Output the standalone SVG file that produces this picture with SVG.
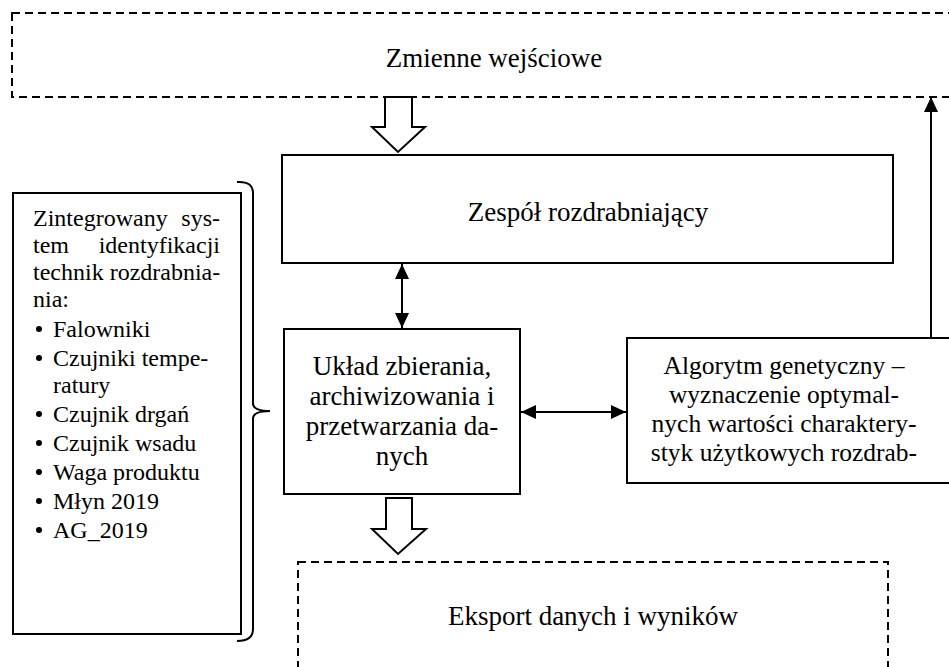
<svg xmlns="http://www.w3.org/2000/svg" width="949" height="667" viewBox="0 0 949 667">
  <defs>
    <marker id="head" viewBox="0 0 15 14" refX="15" refY="7" markerWidth="15" markerHeight="14" markerUnits="userSpaceOnUse" orient="auto-start-reverse">
      <path d="M0,0 L15,7 L0,14 Z" fill="#000"/>
    </marker>
    <style>
      .box { fill: #fff; stroke: #000; stroke-width: 2; }
      .dash { fill: none; stroke: #000; stroke-width: 2; stroke-dasharray: 8 5; }
      .hollow { fill: #fff; stroke: #000; stroke-width: 2; stroke-linejoin: miter; }
      .line { fill: none; stroke: #000; stroke-width: 2; }
      text { font-family: 'Liberation Serif', 'DejaVu Serif', serif; fill: #000; }
      .t { font-size: 27px; text-anchor: middle; }
      .s { font-size: 24px; }
    </style>
  </defs>

  <g id="inputs">
    <rect class="dash" x="12" y="13" width="960" height="84"/>
    <text class="t" x="494" y="67">Zmienne wejściowe</text>
  </g>

  <g id="crusher">
    <rect class="box" x="282" y="155" width="611" height="108"/>
    <text class="t" x="588" y="221">Zespół rozdrabniający</text>
  </g>

  <g id="data-unit">
    <rect class="box" x="284" y="329" width="236" height="165"/>
    <text class="t" x="402" y="375">Układ zbierania,</text>
    <text class="t" x="402" y="405">archiwizowania i</text>
    <text class="t" x="402" y="435">przetwarzania da-</text>
    <text class="t" x="402" y="465">nych</text>
  </g>

  <g id="genetic">
    <rect class="box" x="627" y="338" width="340" height="145"/>
    <text class="t" x="784" y="374" style="font-size:25.5px">Algorytm genetyczny –</text>
    <text class="t" x="784" y="403" style="font-size:25.5px">wyznaczenie optymal-</text>
    <text class="t" x="784" y="432" style="font-size:25.5px">nych wartości charaktery-</text>
    <text class="t" x="784" y="461" style="font-size:25.5px">styk użytkowych rozdrab-</text>
  </g>

  <g id="export">
    <rect class="dash" x="298" y="562" width="590" height="120"/>
    <text class="t" x="593" y="625">Eksport danych i wyników</text>
  </g>

  <g id="system">
    <rect class="box" x="13" y="193" width="228" height="441"/>
    <text class="s" x="33" y="226">Zintegrowany</text>
    <text class="s" x="220" y="226" text-anchor="end">sys-</text>
    <text class="s" x="33" y="253">tem</text>
    <text class="s" x="220" y="253" text-anchor="end">identyfikacji</text>
    <text class="s" x="33" y="280">technik rozdrabnia-</text>
    <text class="s" x="33" y="307">nia:</text>
    <g fill="#000">
      <circle cx="39" cy="329" r="3"/>
      <circle cx="39" cy="358" r="3"/>
      <circle cx="39" cy="414" r="3"/>
      <circle cx="39" cy="443" r="3"/>
      <circle cx="39" cy="472" r="3"/>
      <circle cx="39" cy="501" r="3"/>
      <circle cx="39" cy="530" r="3"/>
    </g>
    <text class="s" x="53" y="337">Falowniki</text>
    <text class="s" x="53" y="366">Czujniki tempe-</text>
    <text class="s" x="53" y="393">ratury</text>
    <text class="s" x="53" y="422">Czujnik drgań</text>
    <text class="s" x="53" y="451">Czujnik wsadu</text>
    <text class="s" x="53" y="480">Waga produktu</text>
    <text class="s" x="53" y="509">Młyn 2019</text>
    <text class="s" x="53" y="538">AG_2019</text>
  </g>

  <g id="connectors">
    <!-- brace grouping the identification system -->
    <path class="line" d="M237,182 Q253,181 253,193 L253,404 Q254,411 270,411 Q254,411 253,418 L253,629 Q253,641 237,641"/>
    <!-- block arrows -->
    <path class="hollow" d="M385,97 L385,127 L372,127 L398,152 L425,127 L412,127 L412,97 Z"/>
    <path class="hollow" d="M386,498 L386,529 L372,529 L398,554 L426,529 L412,529 L412,498 Z"/>
    <!-- data flow -->
    <line class="line" x1="402" y1="264" x2="402" y2="328" marker-start="url(#head)" marker-end="url(#head)"/>
    <line class="line" x1="521" y1="412" x2="626" y2="412" marker-start="url(#head)" marker-end="url(#head)"/>
    <line class="line" x1="931" y1="337" x2="931" y2="97" marker-end="url(#head)"/>
  </g>
</svg>
